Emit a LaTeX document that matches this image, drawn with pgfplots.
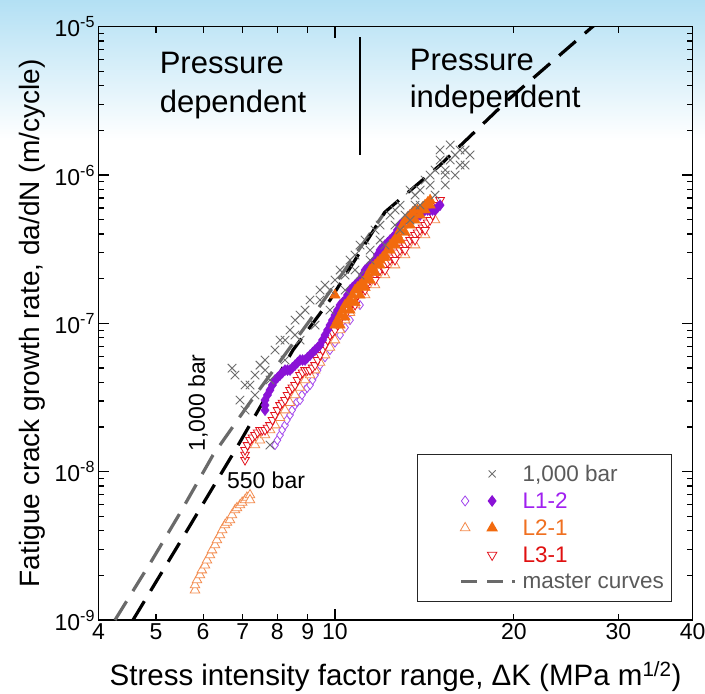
\documentclass[border=0pt]{standalone}
\usepackage{fontspec}
\setmainfont{Liberation Sans}
\usepackage{pgfplots}
\pgfplotsset{compat=1.18}
\usetikzlibrary{backgrounds,calc}

\definecolor{crossgray}{HTML}{6E6E6E}
\definecolor{lpurple}{HTML}{8A12D6}
\definecolor{lpurpleopen}{HTML}{A347EE}
\definecolor{lorange}{HTML}{F26A0E}
\definecolor{lorangeopen}{HTML}{F38A4C}
\definecolor{lred}{HTML}{E3121C}
\definecolor{curvegray}{HTML}{6A6A6A}
\definecolor{legtext}{HTML}{5A5A5A}
\definecolor{legpurple}{HTML}{A020F0}
\definecolor{legorange}{HTML}{F07020}
\definecolor{legred}{HTML}{E01010}
\definecolor{bgblue}{HTML}{B3E0F4}

\begin{document}
\begin{tikzpicture}
\begin{axis}[
  name=ax,
  scale only axis,
  width=594.2pt, height=593.3pt,
  xmode=log, ymode=log,
  xmin=4, xmax=40, ymin=1e-9, ymax=1e-5,
  axis line style={line width=1.4pt},
  tick style={line width=1.2pt, black},
  major tick length=11pt,
  minor tick length=6pt,
  xtick={10}, xticklabels={10},
  minor xtick={4,5,6,7,8,9,20,30,40},
  extra x ticks={4,5,6,7,8,9,20,30,40},
  extra x tick labels={4,5,6,7,8,9,20,30,40},
  extra x tick style={tick style={draw=none}},
  ytick={1e-9,1e-8,1e-7,1e-6,1e-5},
  yticklabels={10\textsuperscript{-9},10\textsuperscript{-8},10\textsuperscript{-7},10\textsuperscript{-6},10\textsuperscript{-5}},
  minor ytick={2e-9,3e-9,4e-9,5e-9,6e-9,7e-9,8e-9,9e-9,
               2e-8,3e-8,4e-8,5e-8,6e-8,7e-8,8e-8,9e-8,
               2e-7,3e-7,4e-7,5e-7,6e-7,7e-7,8e-7,9e-7,
               2e-6,3e-6,4e-6,5e-6,6e-6,7e-6,8e-6,9e-6},
  tick label style={font=\fontsize{23}{26}\selectfont},
  xlabel={Stress intensity factor range, ΔK (MPa m\textsuperscript{1/2})},
  ylabel={Fatigue crack growth rate, da/dN (m/cycle)},
  every axis x label/.style={at={(axis description cs:0.5,-0.1112)}, anchor=base,
    font=\fontsize{29.5}{33}\selectfont},
  every axis y label/.style={at={(axis description cs:-0.0985,0.5)}, rotate=90, anchor=base,
    font=\fontsize{28}{32}\selectfont},
  legend style={at={(0.9652,0.0303)}, anchor=south east, draw=black!85,
    line width=1.2pt, fill=white, font=\fontsize{22.5}{25}\selectfont,
    inner xsep=6pt, inner ysep=6pt, row sep=0pt, column sep=4pt,
    nodes={inner sep=1.5pt}},
  legend cell align=left,
]

% legend entries
\addlegendimage{legend image code/.code={
  \path[draw=none, fill=none] (-42pt,-13.5pt) rectangle (52pt,13.5pt);
  \draw[crossgray, line width=0.9pt] plot[mark=x, mark size=5pt] coordinates {(27pt,0pt)};}}
\addlegendentry[text=legtext]{1,000 bar}
\addlegendimage{legend image code/.code={
  \path[draw=none, fill=none] (-42pt,-13.5pt) rectangle (52pt,13.5pt);
  \draw[lpurpleopen, line width=0.8pt, mark options={fill=white}] plot[mark=diamond*, mark size=5pt] coordinates {(0pt,0pt)};
  \draw[lpurple, fill=lpurple] plot[mark=diamond*, mark size=5pt] coordinates {(27pt,0pt)};}}
\addlegendentry[text=legpurple]{L1-2}
\addlegendimage{legend image code/.code={
  \path[draw=none, fill=none] (-42pt,-13.5pt) rectangle (52pt,13.5pt);
  \draw[lorangeopen, line width=0.8pt, mark options={fill=white}] plot[mark=triangle*, mark size=5.5pt] coordinates {(0pt,0pt)};
  \draw[lorange, fill=lorange] plot[mark=triangle*, mark size=5.5pt] coordinates {(27pt,0pt)};}}
\addlegendentry[text=legorange]{L2-1}
\addlegendimage{legend image code/.code={
  \path[draw=none, fill=none] (-42pt,-13.5pt) rectangle (52pt,13.5pt);
  \draw[lred, line width=0.8pt, mark options={fill=white, rotate=180}] plot[mark=triangle*, mark size=5.5pt] coordinates {(27pt,0pt)};}}
\addlegendentry[text=legred]{L3-1}
\addlegendimage{legend image code/.code={
  \path[draw=none, fill=none] (-42pt,-13.5pt) rectangle (52pt,13.5pt);
  \draw[curvegray, line width=3pt] (-4pt,0pt) -- (12pt,0pt) (22pt,0pt) -- (38pt,0pt) (47pt,0pt) -- (50pt,0pt);}}
\addlegendentry[text=legtext]{master curves}

% L1-2, 550 bar (open diamonds)
\addplot[only marks, forget plot, mark=diamond*, mark size=4.5pt,
  mark options={draw=lpurpleopen, fill=white, line width=0.8pt}] coordinates {
  (7.928,1.512e-8) (8.00,1.63e-8) (8.083,1.766e-8) (8.15,1.91e-8) (8.241,2.06e-8)
  (8.30,2.23e-8) (8.402,2.41e-8) (8.47,2.60e-8) (8.567,2.81e-8) (8.63,2.95e-8)
  (8.735,3.04e-8) (8.80,3.29e-8) (8.906,3.55e-8) (8.98,3.67e-8) (9.080,3.84e-8)
  (9.17,4.15e-8) (9.258,4.48e-8) (9.35,4.84e-8) (9.438,5.23e-8) (9.62,5.90e-8)
  (9.811,6.61e-8) (10.00,7.42e-8) (10.20,8.34e-8) (10.40,9.37e-8) (10.60,1.052e-7)
  (11.02,1.329e-7)
};
% L2-1, 550 bar (open triangles)
\addplot[only marks, forget plot, mark=triangle*, mark size=5.5pt,
  mark options={draw=lorangeopen, fill=white, line width=0.8pt}] coordinates {
  (5.814,1.59e-9) (5.814,1.72e-9) (5.86,1.86e-9) (5.928,2.01e-9) (5.97,2.17e-9)
  (6.044,2.34e-9) (6.09,2.53e-9) (6.162,2.74e-9) (6.21,2.96e-9) (6.283,3.20e-9)
  (6.33,3.46e-9) (6.405,3.74e-9) (6.46,4.04e-9) (6.530,4.37e-9) (6.58,4.55e-9)
  (6.659,4.72e-9) (6.71,5.10e-9) (6.789,5.51e-9) (6.84,5.70e-9) (6.922,5.96e-9)
  (6.98,6.2e-9) (7.058,6.44e-9) (7.11,6.7e-9) (7.196,6.96e-9) (7.196,6.44e-9)
  (7.337,1.512e-8) (7.48,1.63e-8) (7.627,1.766e-8) (7.78,1.91e-8) (7.928,2.06e-8)
  (8.08,2.31e-8) (8.241,2.60e-8) (8.40,2.92e-8) (8.567,3.29e-8) (8.73,3.69e-8)
  (8.906,4.15e-8) (9.08,4.48e-8) (9.258,4.84e-8) (9.44,5.44e-8) (9.623,6.11e-8)
  (9.81,6.87e-8) (10.00,7.71e-8) (10.20,9.01e-8) (10.40,1.052e-7) (10.60,1.18e-7)
  (10.81,1.329e-7) (11.24,1.552e-7) (11.68,1.813e-7) (12.14,2.117e-7) (12.62,2.47e-7)
  (13.12,2.89e-7) (13.64,3.37e-7) (14.18,3.94e-7) (14.74,4.97e-7)
};
% L3-1 (open down triangles)
\addplot[only marks, forget plot, mark=triangle*, mark size=5pt,
  mark options={draw=lred, fill=white, line width=0.8pt, rotate=180}] coordinates {
  (7.058,1.198e-8) (7.058,1.30e-8) (7.058,1.399e-8) (7.127,1.51e-8) (7.196,1.634e-8)
  (7.266,1.70e-8) (7.337,1.766e-8) (7.41,1.84e-8) (7.480,1.909e-8) (7.55,1.909e-8)
  (7.627,1.909e-8) (7.70,1.98e-8) (7.775,2.06e-8) (7.85,2.23e-8) (7.928,2.41e-8)
  (8.005,2.60e-8) (8.083,2.81e-8) (8.16,2.92e-8) (8.241,3.04e-8) (8.32,3.29e-8)
  (8.402,3.55e-8) (8.48,3.69e-8) (8.567,3.84e-8) (8.65,4.15e-8) (8.735,4.48e-8)
  (8.82,4.66e-8) (8.906,4.84e-8) (8.99,4.84e-8) (9.080,4.84e-8) (9.17,5.03e-8)
  (9.258,5.23e-8) (9.35,5.66e-8) (9.438,6.11e-8) (9.53,6.61e-8) (9.623,7.14e-8)
  (9.72,7.72e-8) (9.811,8.34e-8) (9.905,8.67e-8) (10.00,9.01e-8) (10.10,9.74e-8)
  (10.20,1.052e-7) (10.30,1.137e-7) (10.40,1.229e-7) (10.50,1.278e-7) (10.60,1.329e-7)
  (10.70,1.381e-7) (10.81,1.436e-7) (10.91,1.552e-7) (11.02,1.677e-7) (11.13,1.744e-7)
  (11.24,1.813e-7) (11.35,1.885e-7) (11.46,1.959e-7) (11.57,2.036e-7) (11.68,2.117e-7)
  (11.79,2.20e-7) (11.91,2.288e-7) (12.02,2.38e-7) (12.14,2.47e-7) (12.26,2.57e-7)
  (12.38,2.672e-7) (12.50,2.78e-7) (12.62,2.89e-7) (12.74,3.00e-7) (12.87,3.12e-7)
  (13.0,3.24e-7) (13.12,3.37e-7) (13.25,3.50e-7) (13.38,3.645e-7) (13.51,3.79e-7)
  (13.64,3.94e-7) (13.77,4.10e-7) (13.91,4.26e-7) (14.04,4.43e-7) (14.18,4.60e-7)
  (14.32,4.78e-7) (14.46,4.97e-7) (14.60,5.37e-7) (14.74,5.81e-7) (14.88,6.27e-7)
  (15.03,6.78e-7)
  (10.40,1.137e-7) (10.81,1.329e-7) (11.24,1.677e-7) (11.68,1.959e-7) (12.14,2.288e-7)
  (12.62,2.672e-7) (13.12,3.12e-7) (13.64,3.645e-7) (14.18,4.26e-7)
};
% L1-2, 1,000 bar (filled diamonds)
\addplot[only marks, forget plot, mark=diamond*, mark size=5.5pt,
  mark options={draw=lpurple, fill=lpurple}] coordinates {
  (7.627,2.60e-8) (7.627,2.81e-8) (7.627,3.04e-8) (7.70,3.29e-8) (7.775,3.55e-8)
  (7.85,3.84e-8) (7.928,4.15e-8) (8.005,4.31e-8) (8.083,4.48e-8) (8.16,4.66e-8)
  (8.241,4.84e-8) (8.32,4.84e-8) (8.402,4.84e-8) (8.48,5.03e-8) (8.567,5.23e-8)
  (8.65,5.44e-8) (8.735,5.66e-8) (8.82,5.66e-8) (8.906,5.66e-8) (8.99,5.88e-8)
  (9.080,6.11e-8) (9.17,6.36e-8) (9.258,6.61e-8) (9.35,6.87e-8) (9.438,7.14e-8)
  (9.53,7.72e-8) (9.623,8.34e-8) (9.72,9.01e-8) (9.811,9.74e-8) (9.905,1.052e-7)
  (10.00,1.137e-7) (10.10,1.229e-7) (10.20,1.329e-7) (10.30,1.381e-7) (10.40,1.436e-7)
  (10.50,1.552e-7) (10.60,1.677e-7) (10.70,1.744e-7) (10.81,1.813e-7) (10.91,1.885e-7)
  (11.02,1.959e-7) (11.13,2.117e-7) (11.24,2.288e-7) (11.35,2.38e-7) (11.46,2.47e-7)
  (11.57,2.57e-7) (11.68,2.672e-7) (11.79,2.89e-7) (11.91,3.12e-7) (12.02,3.24e-7)
  (12.14,3.37e-7) (12.26,3.50e-7) (12.38,3.645e-7) (12.50,3.79e-7) (12.62,3.94e-7)
  (12.74,4.26e-7) (12.87,4.60e-7) (13.0,4.78e-7) (13.12,4.97e-7) (13.25,5.17e-7)
  (13.38,5.37e-7) (13.51,5.37e-7) (13.64,5.37e-7) (13.77,5.37e-7) (13.91,5.37e-7)
  (14.04,5.59e-7) (14.18,5.81e-7) (14.32,5.81e-7) (14.46,5.81e-7) (14.60,5.81e-7)
  (14.74,5.81e-7) (14.88,6.04e-7) (15.03,6.27e-7)
};
% L2-1, 1,000 bar (filled triangles)
\addplot[only marks, forget plot, mark=triangle*, mark size=6pt,
  mark options={draw=lorange, fill=lorange}] coordinates {
  (10.00,1.552e-7)
  (10.00,9.74e-8) (10.10,1.052e-7) (10.20,1.137e-7) (10.30,1.229e-7) (10.40,1.329e-7)
  (10.50,1.381e-7) (10.60,1.436e-7) (10.70,1.552e-7) (10.81,1.677e-7) (10.91,1.744e-7)
  (11.02,1.813e-7) (11.13,1.885e-7) (11.24,1.959e-7) (11.35,2.117e-7) (11.46,2.288e-7)
  (11.57,2.38e-7) (11.68,2.47e-7) (11.79,2.57e-7) (11.91,2.672e-7) (12.02,2.78e-7)
  (12.14,2.89e-7) (12.26,3.12e-7) (12.38,3.37e-7) (12.50,3.50e-7) (12.62,3.645e-7)
  (12.74,3.94e-7) (12.87,4.26e-7) (13.0,4.60e-7) (13.12,4.97e-7) (13.25,5.17e-7)
  (13.38,5.37e-7) (13.51,5.59e-7) (13.64,5.81e-7) (13.77,5.81e-7) (13.91,5.81e-7)
  (14.04,6.04e-7) (14.18,6.27e-7) (14.32,6.52e-7) (14.46,6.78e-7)
  (10.20,9.74e-8) (10.40,1.10e-7) (10.60,1.229e-7) (10.81,1.381e-7) (11.02,1.552e-7)
  (11.24,1.744e-7) (11.46,1.959e-7) (11.68,2.20e-7) (11.91,2.47e-7) (12.14,2.78e-7)
  (12.38,3.12e-7) (12.62,3.37e-7) (12.87,3.645e-7) (13.12,4.10e-7) (13.38,4.60e-7)
  (13.64,4.97e-7) (13.91,5.37e-7) (14.18,5.81e-7) (14.46,6.27e-7)
};
% 1,000 bar reference data (crosses)
\addplot[only marks, forget plot, mark=x, mark size=6pt,
  mark options={draw=crossgray, line width=0.9pt}] coordinates {
  (6.789,4.48e-8) (7.058,3.84e-8) (6.922,3.04e-8) (7.196,3.84e-8) (7.058,2.60e-8)
  (7.337,3.29e-8) (7.480,5.23e-8) (7.627,4.84e-8) (7.775,4.15e-8) (7.928,6.61e-8)
  (8.083,7.71e-8) (8.241,5.66e-8) (8.402,9.01e-8) (8.567,1.052e-7) (8.735,7.71e-8)
  (8.735,1.137e-7) (9.080,1.436e-7) (9.258,9.74e-8) (9.438,1.677e-7) (9.623,1.813e-7)
  (9.811,1.229e-7) (10.00,1.959e-7) (10.20,2.288e-7) (10.40,1.677e-7) (10.60,2.672e-7)
  (10.81,2.89e-7) (11.02,2.117e-7) (11.02,3.37e-7) (11.24,3.645e-7) (11.46,2.672e-7)
  (11.68,4.26e-7) (11.91,4.60e-7) (12.14,3.37e-7) (12.38,5.37e-7) (12.62,5.81e-7)
  (12.87,4.26e-7) (12.87,6.27e-7) (13.38,4.97e-7) (13.38,7.92e-7) (13.64,7.33e-7)
  (13.91,6.27e-7) (14.18,9.25e-7) (14.46,8.56e-7) (14.74,7.33e-7) (14.74,1.081e-6)
  (15.03,1.475e-6) (15.33,8.56e-7) (15.33,1.081e-6) (15.63,1.262e-6) (15.63,1.595e-6)
  (15.93,1.000e-6) (15.93,1.365e-6) (16.24,1.475e-6) (16.56,1.168e-6) (16.56,1.475e-6)
  (7.775,1.512e-8)
  (6.711,4.99e-8) (7.337,4.48e-8) (7.627,5.66e-8) (8.241,7.71e-8) (8.567,8.34e-8)
  (8.906,1.229e-7) (9.438,1.436e-7) (9.811,1.677e-7) (10.40,2.117e-7) (10.81,2.288e-7)
  (11.46,3.12e-7) (11.91,3.645e-7) (12.62,4.60e-7) (13.12,5.37e-7) (13.64,6.27e-7)
  (13.91,7.92e-7) (14.46,1.000e-6) (15.03,1.262e-6) (16.24,1.168e-6) (16.88,1.365e-6)
  (15.33,1.000e-6)
};
% master curves
\addplot[curvegray, line width=3.2pt, dash pattern=on 22pt off 12pt, forget plot] coordinates {
  (4.264,1e-9) (4.921,2.53e-9) (5.486,5.26e-9) (6.234,1.294e-8) (7.140,2.81e-8)
  (9.08,1.052e-7) (12.14,5.63e-7)
};
\addplot[black, line width=3.2pt, dash pattern=on 22pt off 12pt, forget plot] coordinates {
  (4.572,1e-9) (5.551,3.62e-9) (6.843,1.465e-8) (8.50,6.61e-8) (9.81,1.436e-7)
  (12.14,5.63e-7) (15.03,1.168e-6) (19.56,3.21e-6) (27.09,9.95e-6) (28.0,1.1e-5)
};

% annotations
\draw[line width=1.5pt] (rel axis cs:0.4401,0.9826) -- (rel axis cs:0.4401,0.7838);
\node[anchor=base west, inner sep=0pt, font=\fontsize{31}{36}\selectfont] at (rel axis cs:0.1028,0.9203) {Pressure};
\node[anchor=base west, inner sep=0pt, font=\fontsize{31}{36}\selectfont] at (rel axis cs:0.1028,0.8562) {dependent};
\node[anchor=base west, inner sep=0pt, font=\fontsize{31}{36}\selectfont] at (rel axis cs:0.5236,0.9270) {Pressure};
\node[anchor=base west, inner sep=0pt, font=\fontsize{31}{36}\selectfont] at (rel axis cs:0.5236,0.8630) {independent};
\node[anchor=base, rotate=90, inner sep=0pt, font=\fontsize{23}{26}\selectfont] at (rel axis cs:0.1792,0.3658) {1,000 bar};
\node[anchor=base, inner sep=0pt, font=\fontsize{23}{26}\selectfont] at (rel axis cs:0.2819,0.2225) {550 bar};

\coordinate (bbsw) at (rel axis cs:0,0);
\coordinate (bbne) at (rel axis cs:1,1);
\end{axis}

\coordinate (lo) at ($(bbsw)+(-98.5pt,-74pt)$);
\coordinate (hi) at ($(bbne)+(12.3pt,26.7pt)$);
\coordinate (tl) at (lo |- hi);
\pgfresetboundingbox
\path[use as bounding box] (lo) rectangle (hi);
\begin{scope}[on background layer]
  \fill[white] (lo) rectangle (hi);
  \shade[top color=bgblue, bottom color=white] ($(tl)+(0,-140pt)$) rectangle (hi);
\end{scope}
\end{tikzpicture}
\end{document}
